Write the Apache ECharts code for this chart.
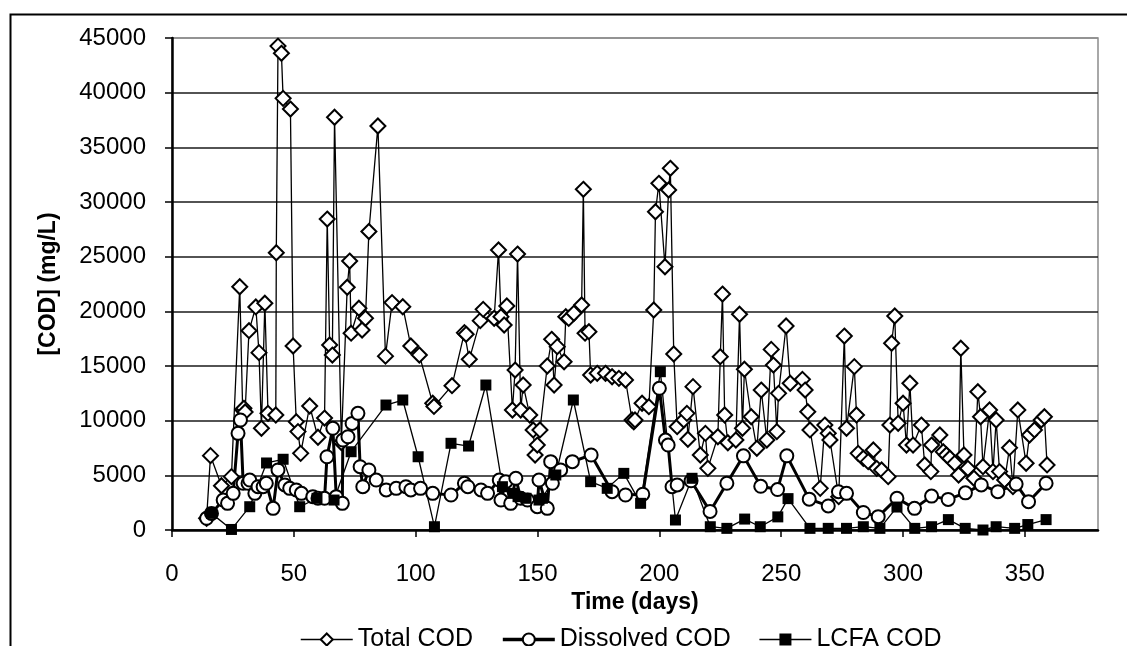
<!DOCTYPE html>
<html>
<head>
<meta charset="utf-8">
<script src="https://cdn.jsdelivr.net/npm/echarts@6/dist/echarts.min.js"></script>
<style>
  html, body { margin: 0; padding: 0; background: #fff; }
  #chart { width: 1127px; height: 646px; }
</style>
</head>
<body>
<div id="chart"></div>
<script>
// [day, mg/L]
const totalCod = [
  [14.2,1070],[15.8,6800],[20.3,4050],[24.4,4880],[27.8,22250],[29.0,11000],[29.5,11130],[30.0,10800],
  [31.6,18230],[34.4,20400],[35.7,16220],[36.7,9300],[38.1,20740],[39.4,10670],[42.6,10520],[42.8,25360],
  [43.5,44260],[44.9,43600],[45.6,39480],[48.6,38500],[49.7,16830],[51.0,9900],[51.7,9000],[52.8,7010],
  [56.5,11340],[59.9,8480],[62.6,10240],[63.7,28440],[64.7,16920],[65.8,16000],[66.7,37750],[69.5,8000],
  [71.9,22200],[72.9,24600],[73.5,18000],[76.7,20280],[78.0,18290],[79.4,19360],[80.8,27300],[84.5,36950],
  [87.6,15900],[90.3,20800],[94.7,20420],[98.0,16830],[101.5,16000],[107.0,11590],[107.5,11300],[114.9,13200],
  [120.0,18050],[120.7,17900],[122.0,15610],[126.5,19150],[127.7,20180],[132.2,19360],[134.0,25610],[135.0,19510],
  [136.3,18750],[137.4,20490],[139.7,10975],[140.8,14630],[141.8,25240],[143.1,10975],[144.1,13260],[146.8,10520],
  [148.2,9150],[149.0,6860],[149.9,7770],[151.0,9150],[154.0,15000],[155.8,17440],[156.8,13260],[158.1,16770],
  [160.9,15390],[161.6,19510],[162.8,19350],[164.9,19820],[168.1,20580],[168.8,31160],[169.5,18000],[171.1,18140],
  [171.8,14180],[174.5,14330],[177.9,14330],[180.6,14020],[183.4,13870],[186.1,13720],[188.8,10060],[189.5,9900],
  [190.0,10060],[192.9,11590],[195.7,11280],[197.7,20120],[198.4,29110],[199.8,31710],[202.3,24080],[203.8,31100],
  [204.5,33080],[205.9,16100],[207.3,9450],[210.0,10060],[211.3,10670],[211.7,8300],[213.8,13110],[216.8,6860],
  [218.9,8840],[219.9,5640],[224.0,8530],[225.0,15850],[225.9,21580],[226.8,10520],[228.1,7980],[231.4,8230],
  [232.9,19730],[234.1,9300],[234.9,14700],[237.7,10360],[240.0,7470],[241.8,12800],[244.1,8230],[245.9,16520],
  [246.8,15090],[248.2,9000],[248.9,12500],[252.0,18660],[253.7,13420],[258.7,13780],[259.8,12800],[260.9,10820],
  [261.8,9150],[266.0,3810],[267.9,9600],[269.3,8840],[270.0,8230],[273.6,3050],[275.9,17740],[276.8,9300],
  [280.0,14940],[280.9,10520],[281.6,7010],[283.7,6560],[285.7,6250],[287.8,7320],[289.2,5640],[291.2,5490],
  [293.9,4880],[294.6,9600],[295.3,17080],[296.6,19570],[298.0,9760],[300.0,11590],[301.4,7770],[302.8,13420],
  [304.1,7770],[307.5,9600],[308.9,5950],[311.4,5340],[311.7,7770],[315.1,8690],[316.5,7160],[317.8,6860],
  [319.2,6560],[321.2,6100],[322.8,5030],[323.7,16620],[325.0,6860],[326.6,5640],[329.1,4730],[330.7,12650],
  [331.8,10360],[332.8,5790],[335.5,10980],[336.9,5340],[338.2,10060],[339.6,5340],[341.7,4570],[343.7,7530],
  [345.1,3960],[347.1,10980],[350.5,6100],[351.9,8690],[353.9,9150],[356.7,10060],[358.0,10360],[359.1,5950]
];
const dissolvedCod = [
  [14.2,1070],[16.2,1520],[21.0,2740],[22.8,2440],[25.1,3350],[27.1,8840],[28.1,10060],[29.2,4270],
  [31.2,4270],[31.9,4570],[34.0,3350],[35.3,3960],[37.4,3960],[38.7,4270],[41.5,1980],[43.5,5490],
  [46.3,4120],[48.3,3810],[51.0,3660],[53.1,3350],[57.8,3050],[59.9,2900],[62.6,2900],[63.6,6700],
  [66.0,9300],[67.4,3050],[69.9,2440],[70.1,8230],[72.2,8530],[73.9,9750],[76.3,10670],[77.2,5790],
  [78.3,3960],[80.8,5490],[83.8,4570],[87.9,3660],[92.0,3810],[96.0,3960],[98.0,3660],[102.0,3810],
  [107.0,3350],[114.5,3200],[120.0,4270],[121.4,3960],[126.8,3660],[129.5,3350],[134.3,4570],[135.0,2740],
  [137.0,4420],[139.0,2440],[141.1,4730],[143.1,2900],[145.9,2740],[149.9,2130],[150.6,4570],[154.0,1980],
  [155.4,6250],[156.1,4270],[159.5,5490],[164.3,6250],[172.0,6860],[180.6,3500],[186.1,3200],[193.2,3270],
  [200.0,12960],[202.5,8230],[203.6,7770],[205.2,3960],[207.3,4120],[213.0,4500],[220.8,1700],[227.7,4270],
  [234.5,6780],[241.6,4000],[248.5,3700],[252.3,6780],[261.5,2820],[269.3,2200],[273.5,3500],[276.8,3350],
  [283.7,1600],[289.8,1220],[297.5,2900],[304.7,1980],[311.7,3100],[318.5,2800],[325.6,3400],[332.1,4120],
  [338.9,3500],[346.4,4200],[351.5,2590],[358.7,4270]
];
const lcfaCod = [
  [16.2,1520],[24.4,50],[31.9,2130],[38.8,6130],[45.6,6470],[52.4,2130],[59.5,2900],[66.5,2740],
  [73.5,7160],[87.8,11430],[94.7,11890],[101.0,6700],[107.7,300],[114.5,7930],[121.7,7680],[128.8,13260],
  [135.6,3960],[140.0,3350],[142.0,3050],[145.3,2900],[150.6,2740],[152.0,2900],[157.5,5030],[164.7,11890],
  [171.8,4420],[178.6,3810],[185.4,5180],[192.3,2440],[200.4,14480],[206.6,915],[213.4,4730],[220.9,300],
  [227.7,150],[235.0,1000],[241.4,300],[248.6,1200],[252.8,2870],[261.8,150],[269.3,150],[276.8,150],
  [283.7,300],[290.5,150],[297.5,2100],[304.8,150],[311.7,300],[318.6,950],[325.5,150],[332.8,0],
  [338.2,300],[345.8,150],[351.2,500],[358.7,950]
];
const yMax = 45000, yStep = 5000;
const xMax = 380, xStep = 50;

const font = 'Liberation Sans, Arial, sans-serif';
const chart = echarts.init(document.getElementById('chart'));
const gridColors = [];
for (let v = 0; v <= yMax; v += yStep) gridColors.push(v === yMax ? '#8c8c8c' : '#1a1a1a');

chart.setOption({
  animation: false,
  backgroundColor: '#fff',
  graphic: [{
    type: 'rect', left: 8, top: 12, silent: true, z: -10,
    shape: { width: 1140, height: 660 },
    style: { fill: 'none', stroke: '#000', lineWidth: 2 }
  }],
  grid: { left: 172, top: 38, right: 29, bottom: 116, show: true, borderColor: '#8c8c8c', borderWidth: 1.5 },
  legend: {
    top: 622, left: 295,
    itemWidth: 52, itemHeight: 15, itemGap: 28,
    textStyle: { fontFamily: font, fontSize: 25, color: '#000' },
    data: [
      { name: 'Total COD', lineStyle: { width: 1.5 } },
      { name: 'Dissolved COD', lineStyle: { width: 3.5 } },
      { name: 'LCFA COD', lineStyle: { width: 1.5 } }
    ]
  },
  xAxis: {
    type: 'value', min: 0, max: xMax, interval: xStep,
    name: 'Time (days)', nameLocation: 'middle', nameGap: 57,
    nameTextStyle: { fontFamily: font, fontSize: 23, fontWeight: 'bold', color: '#000' },
    axisLine: { lineStyle: { color: '#000', width: 2.5 } },
    axisTick: { length: 7, lineStyle: { color: '#000', width: 1.5 } },
    axisLabel: { fontFamily: font, fontSize: 24, color: '#000', margin: 32,
      showMaxLabel: false },
    splitLine: { show: false }
  },
  yAxis: {
    type: 'value', min: 0, max: yMax, interval: yStep,
    name: '[COD] (mg/L)', nameLocation: 'middle', nameGap: 112,
    nameTextStyle: { fontFamily: font, fontSize: 23, fontWeight: 'bold', color: '#000' },
    axisLine: { show: true, lineStyle: { color: '#000', width: 2.5 } },
    axisTick: { show: true, length: 7, lineStyle: { color: '#000', width: 1.5 } },
    axisLabel: { fontFamily: font, fontSize: 24, color: '#000', margin: 26,
      formatter: v => String(v) },
    splitLine: { show: true, lineStyle: { color: gridColors, width: 1.5 } }
  },
  series: [
    {
      name: 'Total COD', type: 'line', data: totalCod, clip: false, showAllSymbol: true,
      symbol: 'emptyDiamond', symbolSize: 15,
      lineStyle: { color: '#000', width: 1.3 },
      itemStyle: { color: '#000', borderColor: '#000', borderWidth: 1.5 }
    },
    {
      name: 'Dissolved COD', type: 'line', data: dissolvedCod, clip: false, showAllSymbol: true,
      symbol: 'emptyCircle', symbolSize: 13,
      lineStyle: { color: '#000', width: 3 },
      itemStyle: { color: '#000', borderColor: '#000', borderWidth: 1.5 }
    },
    {
      name: 'LCFA COD', type: 'line', data: lcfaCod, clip: false, showAllSymbol: true,
      symbol: 'rect', symbolSize: 11,
      lineStyle: { color: '#000', width: 1.3 },
      itemStyle: { color: '#000' }
    }
  ]
});
</script>
</body>
</html>
